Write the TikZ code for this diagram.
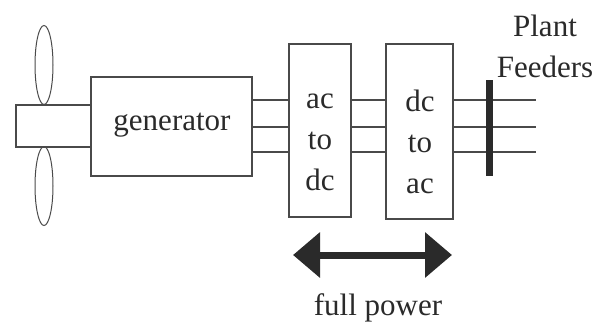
\documentclass[tikz,border=0pt]{standalone}
\usepackage{fontspec}
\setmainfont{Liberation Serif}
\usepackage{xcolor}
\usetikzlibrary{shapes.geometric,arrows.meta}

\definecolor{wire}{HTML}{4A4A4A}
\definecolor{ink}{HTML}{2A2A2A}

\tikzset{
  box/.style={draw=wire, line width=1.2pt, fill=white, inner sep=0pt},
  blade/.style={draw=wire, line width=1pt, ellipse, inner sep=0pt,
    minimum width=18pt, minimum height=79pt},
  txt/.style={text=ink, font=\fontsize{31}{41}\selectfont, inner sep=0pt},
  feeder/.style={draw=wire, line width=1.2pt}
}

\begin{document}
\begin{tikzpicture}[x=1pt, y=-1pt]
\useasboundingbox (0,0) rectangle (607,325);

% Blades and hub
\node[blade] (bladeup) at (44,65) {};
\node[blade] (bladedown) at (44,186) {};
\node[box, minimum width=76pt, minimum height=42pt] (hub) at (54,126) {};

% Generator and converters
\node[box, minimum width=161pt, minimum height=99pt] (gen) at (171.5,126.5) {};
\node[box, minimum width=62pt, minimum height=173pt] (acdc) at (320,130.5) {};
\node[box, minimum width=67pt, minimum height=175pt] (dcac) at (419.5,131.5) {};

% Labels
\node[txt] (gentxt) at (172,125) {generator};
\node[txt, align=center] (acdctxt) at (320,142) {ac\\to\\dc};
\node[txt, align=center] (dcactxt) at (420,142) {dc\\to\\ac};

% Three phase wires
\foreach \y in {100,127,152} {
  \draw[feeder] (gen.east |- 0,\y) -- (acdc.west |- 0,\y);
  \draw[feeder] (acdc.east |- 0,\y) -- (dcac.west |- 0,\y);
  \coordinate (end\y) at (536,\y);
  \draw[feeder] (dcac.east |- 0,\y) -- (end\y);
}

% Bus bar
\node[fill=ink, inner sep=0pt, minimum width=7pt, minimum height=96pt] (bus) at (489,128) {};
\node[txt, align=center] (plant) at (545,46) {Plant\\Feeders};

% Power arrow
\coordinate (arrowl) at (293,255);
\coordinate (arrowr) at (452,255);
\draw[ink, line width=7pt, {Triangle[length=27pt,width=44pt]}-{Triangle[length=27pt,width=44pt]}] (arrowl) -- (arrowr);
\node[txt] (full) at (378,308) {full power};
\end{tikzpicture}
\end{document}
